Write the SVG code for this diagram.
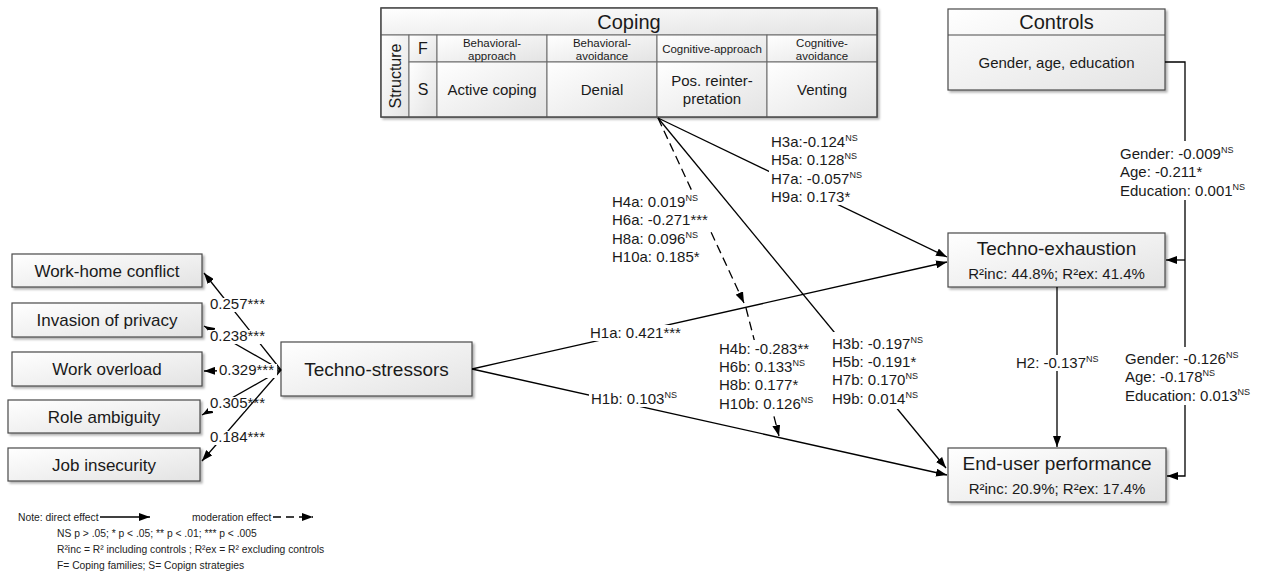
<svg xmlns="http://www.w3.org/2000/svg" width="1264" height="578" viewBox="0 0 1264 578">
<defs>
<linearGradient id="gf" x1="0" y1="0" x2="1" y2="1"><stop offset="0" stop-color="#ffffff"/><stop offset="1" stop-color="#e3e3e3"/></linearGradient>
<filter id="sh" x="-5%" y="-5%" width="115%" height="130%"><feDropShadow dx="2" dy="2" stdDeviation="1" flood-color="#000" flood-opacity="0.3"/></filter>
<marker id="ah" viewBox="0 0 11 8" refX="11" refY="4" markerWidth="11" markerHeight="8" markerUnits="userSpaceOnUse" orient="auto"><path d="M0,0 L11,4 L0,8 z" fill="#000"/></marker>
<style>
text{font-family:"Liberation Sans",Arial,sans-serif;fill:#1a1a1a}
.box{fill:url(#gf);stroke:#4a4a4a;stroke-width:1.2;filter:url(#sh)}
.cell{fill:url(#gf);stroke:#6a6a6a;stroke-width:1}
.c{stroke:#000;stroke-width:1.3;fill:none}
.a{marker-end:url(#ah)}
.d{stroke-dasharray:9 5}
.bg{fill:#fff}
.m{text-anchor:middle}
.t20{font-size:20px}
.t19{font-size:19px}
.t17{font-size:17px}
.t16{font-size:16px}
.t15{font-size:15px}
.t11{font-size:11.5px}
.sup{font-size:9px}
.note{font-size:10.3px;fill:#222}
</style>
</defs>

<g id="coping">
<rect class="box" x="381" y="8" width="496" height="109"/>
<rect class="cell" x="381" y="8" width="496" height="27"/>
<rect class="cell" x="381" y="35" width="28" height="82"/>
<rect class="cell" x="409" y="35" width="28" height="27"/>
<rect class="cell" x="409" y="62" width="28" height="55"/>
<rect class="cell" x="437" y="35" width="110" height="27"/>
<rect class="cell" x="547" y="35" width="110" height="27"/>
<rect class="cell" x="657" y="35" width="110" height="27"/>
<rect class="cell" x="767" y="35" width="110" height="27"/>
<rect class="cell" x="437" y="62" width="110" height="55"/>
<rect class="cell" x="547" y="62" width="110" height="55"/>
<rect class="cell" x="657" y="62" width="110" height="55"/>
<rect class="cell" x="767" y="62" width="110" height="55"/>
<rect x="381" y="8" width="496" height="109" fill="none" stroke="#4a4a4a" stroke-width="1.2"/>
<text class="t20 m" x="629" y="29">Coping</text>
<text class="t16 m" transform="translate(401,76) rotate(-90)">Structure</text>
<text class="t16 m" x="423" y="54">F</text>
<text class="t16 m" x="423" y="95">S</text>
<text class="t11 m" x="492" y="47">Behavioral-</text>
<text class="t11 m" x="492" y="59.5">approach</text>
<text class="t11 m" x="602" y="47">Behavioral-</text>
<text class="t11 m" x="602" y="59.5">avoidance</text>
<text class="t11 m" x="712" y="52.5">Cognitive-approach</text>
<text class="t11 m" x="822" y="47">Cognitive-</text>
<text class="t11 m" x="822" y="59.5">avoidance</text>
<text class="t15 m" x="492" y="95">Active coping</text>
<text class="t15 m" x="602" y="95">Denial</text>
<text class="t15 m" x="712" y="86">Pos. reinter-</text>
<text class="t15 m" x="712" y="104">pretation</text>
<text class="t15 m" x="822" y="95">Venting</text>
</g>

<g id="controls">
<rect class="box" x="948" y="9" width="217" height="81"/>
<line x1="948" y1="35" x2="1165" y2="35" stroke="#4a4a4a" stroke-width="1.2"/>
<text class="t20 m" x="1056.5" y="29">Controls</text>
<text class="t15 m" x="1056.5" y="68">Gender, age, education</text>
</g>

<g id="work-home">
<rect class="box" x="12" y="254" width="190" height="33"/>
<text class="t17 m" x="107" y="276.5">Work-home conflict</text>
</g>
<g id="privacy">
<rect class="box" x="12" y="303" width="190" height="34"/>
<text class="t17 m" x="107" y="326">Invasion of privacy</text>
</g>
<g id="overload">
<rect class="box" x="12" y="352" width="190" height="34"/>
<text class="t17 m" x="107" y="375">Work overload</text>
</g>
<g id="ambiguity">
<rect class="box" x="8" y="400" width="192" height="33"/>
<text class="t17 m" x="104" y="422.5">Role ambiguity</text>
</g>
<g id="insecurity">
<rect class="box" x="8" y="448" width="192" height="33"/>
<text class="t17 m" x="104" y="470.5">Job insecurity</text>
</g>

<g id="techno-stressors">
<rect class="box" x="281" y="342" width="191" height="54"/>
<text class="t19 m" x="376.5" y="376">Techno-stressors</text>
</g>
<g id="techno-exhaustion">
<rect class="box" x="948" y="233" width="217" height="54"/>
<text class="t19 m" x="1056.5" y="255">Techno-exhaustion</text>
<text class="t15 m" x="1056.5" y="278.5">R²inc: 44.8%; R²ex: 41.4%</text>
</g>
<g id="end-user-performance">
<rect class="box" x="948" y="448" width="218" height="54"/>
<text class="t19 m" x="1057" y="470">End-user performance</text>
<text class="t15 m" x="1057" y="493.5">R²inc: 20.9%; R²ex: 17.4%</text>
</g>

<g id="connectors">
<line class="c a" x1="281" y1="370" x2="204" y2="273"/>
<line class="c a" x1="281" y1="370" x2="204" y2="326"/>
<line class="c a" x1="281" y1="370" x2="204" y2="371"/>
<line class="c a" x1="281" y1="370" x2="202" y2="415"/>
<line class="c a" x1="281" y1="370" x2="202" y2="461"/>
<line class="c a" x1="472" y1="369" x2="947" y2="262"/>
<line class="c a" x1="472" y1="369" x2="947" y2="475"/>
<line class="c a" x1="658" y1="118" x2="947" y2="257"/>
<line class="c a" x1="658" y1="118" x2="946" y2="468"/>
<line class="c a d" x1="658" y1="118" x2="744" y2="303"/>
<line class="c a d" x1="746" y1="308" x2="779" y2="436"/>
<line class="c a" x1="1057" y1="287" x2="1057" y2="447"/>
<path class="c a" d="M1165,62 H1185 V476 H1167"/>
<path class="c a" d="M1185,260 H1166"/>
</g>

<g id="labels">
<rect class="bg" x="208" y="298" width="60" height="14"/>
<text class="t15" x="210" y="309">0.257***</text>
<rect class="bg" x="208" y="330" width="60" height="14"/>
<text class="t15" x="210" y="341">0.238***</text>
<rect class="bg" x="217" y="364" width="60" height="14"/>
<text class="t15" x="219" y="375">0.329***</text>
<rect class="bg" x="208" y="397" width="37" height="14"/>
<text class="t15" x="210" y="408">0.305***</text>
<rect class="bg" x="208" y="431" width="60" height="14"/>
<text class="t15" x="210" y="442">0.184***</text>

<rect class="bg" x="588" y="325" width="96" height="16"/>
<text class="t15" x="590" y="337.5">H1a: 0.421***</text>
<rect class="bg" x="589" y="391" width="88" height="16"/>
<text class="t15" x="591" y="403.5">H1b: 0.103<tspan class="sup" dy="-6">NS</tspan></text>
<rect class="bg" x="1014" y="355" width="86" height="16"/>
<text class="t15" x="1016" y="367.5">H2: -0.137<tspan class="sup" dy="-6">NS</tspan></text>

<rect class="bg" x="769" y="134" width="84" height="71"/>
<text class="t15" x="771" y="147">H3a:-0.124<tspan class="sup" dy="-6">NS</tspan></text>
<text class="t15" x="771" y="165.3">H5a: 0.128<tspan class="sup" dy="-6">NS</tspan></text>
<text class="t15" x="771" y="183.6">H7a: -0.057<tspan class="sup" dy="-6">NS</tspan></text>
<text class="t15" x="771" y="202">H9a: 0.173*</text>

<rect class="bg" x="610" y="194" width="100" height="72"/>
<text class="t15" x="612" y="207">H4a: 0.019<tspan class="sup" dy="-6">NS</tspan></text>
<text class="t15" x="612" y="225">H6a: -0.271***</text>
<text class="t15" x="612" y="243.5">H8a: 0.096<tspan class="sup" dy="-6">NS</tspan></text>
<text class="t15" x="612" y="262">H10a: 0.185*</text>

<rect class="bg" x="717" y="340" width="98" height="73"/>
<text class="t15" x="719" y="353.5">H4b: -0.283**</text>
<text class="t15" x="719" y="372">H6b: 0.133<tspan class="sup" dy="-6">NS</tspan></text>
<text class="t15" x="719" y="390">H8b: 0.177*</text>
<text class="t15" x="719" y="408.5">H10b: 0.126<tspan class="sup" dy="-6">NS</tspan></text>

<rect class="bg" x="830" y="332" width="96" height="77"/>
<text class="t15" x="832" y="348.5">H3b: -0.197<tspan class="sup" dy="-6">NS</tspan></text>
<text class="t15" x="832" y="367">H5b: -0.191*</text>
<text class="t15" x="832" y="385">H7b: 0.170<tspan class="sup" dy="-6">NS</tspan></text>
<text class="t15" x="832" y="403.5">H9b: 0.014<tspan class="sup" dy="-6">NS</tspan></text>

<rect class="bg" x="1117" y="141" width="130" height="59"/>
<text class="t15" x="1120" y="158.5">Gender: -0.009<tspan class="sup" dy="-6">NS</tspan></text>
<text class="t15" x="1120" y="177">Age: -0.211*</text>
<text class="t15" x="1120" y="195.5">Education: 0.001<tspan class="sup" dy="-6">NS</tspan></text>

<rect class="bg" x="1122" y="347" width="130" height="58"/>
<text class="t15" x="1125" y="363.5">Gender: -0.126<tspan class="sup" dy="-6">NS</tspan></text>
<text class="t15" x="1125" y="382">Age: -0.178<tspan class="sup" dy="-6">NS</tspan></text>
<text class="t15" x="1125" y="400.5">Education: 0.013<tspan class="sup" dy="-6">NS</tspan></text>
</g>

<g id="note">
<text class="note" x="18" y="521">Note: direct effect</text>
<line class="c a" x1="100" y1="517" x2="150" y2="517" stroke-width="1"/>
<text class="note" x="192" y="521">moderation effect</text>
<line class="c a" x1="273" y1="517" x2="313" y2="517" stroke-width="1" stroke-dasharray="8 5"/>
<text class="note" x="57" y="537">NS p &gt; .05; * p &lt; .05; ** p &lt; .01; *** p &lt; .005</text>
<text class="note" x="57" y="553">R²inc = R² including controls ; R²ex = R² excluding controls</text>
<text class="note" x="57" y="569">F= Coping families; S= Copign strategies</text>
</g>
</svg>
